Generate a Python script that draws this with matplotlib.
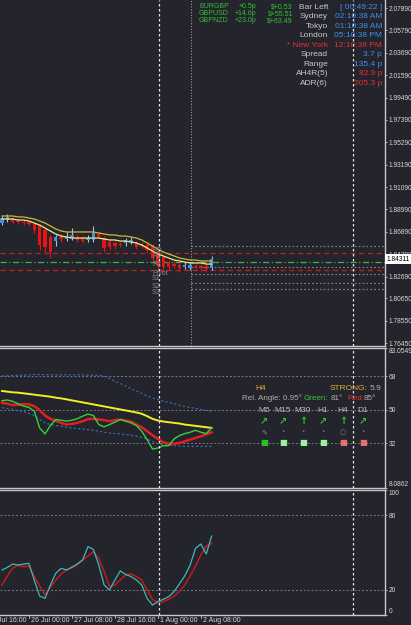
import matplotlib
matplotlib.use("Agg")
from matplotlib import pyplot as plt
import matplotlib.transforms as mtransforms
import numpy as np

W, H = 411, 625
BG = "#23242c"
FRAME = "#c8c8c8"
AXTXT = "#d8d8d8"
NARROW = ["Liberation Sans Narrow", "Liberation Sans", "DejaVu Sans"]
SANS = ["Liberation Sans", "DejaVu Sans"]
plt.rcParams["font.family"] = SANS

# --- H4 price bars -------------------------------------------------------
opens = [1.8771, 1.8799, 1.8818, 1.8790, 1.8781, 1.8781, 1.8762, 1.8752, 1.8706, 1.8640,
         1.8602, 1.8640, 1.8621, 1.8630, 1.8640, 1.8630, 1.8612, 1.8612, 1.8668, 1.8630,
         1.8593, 1.8584, 1.8574, 1.8584, 1.8593, 1.8584, 1.8574, 1.8565, 1.8565, 1.8499,
         1.8452, 1.8405, 1.8386, 1.8377, 1.8358, 1.8349, 1.8368, 1.8368, 1.8368, 1.8349]
closes = [1.8818, 1.8828, 1.8781, 1.8781, 1.8771, 1.8762, 1.8706, 1.8565, 1.8546, 1.8499,
          1.8640, 1.8621, 1.8640, 1.8659, 1.8612, 1.8602, 1.8630, 1.8677, 1.8640, 1.8537,
          1.8546, 1.8555, 1.8565, 1.8612, 1.8612, 1.8546, 1.8555, 1.8518, 1.8443, 1.8377,
          1.8358, 1.8358, 1.8368, 1.8349, 1.8377, 1.8377, 1.8358, 1.8349, 1.8340, 1.8431]
highs = [1.8837, 1.8856, 1.8828, 1.8809, 1.8799, 1.8790, 1.8771, 1.8762, 1.8724, 1.8659,
         1.8659, 1.8668, 1.8687, 1.8724, 1.8668, 1.8649, 1.8659, 1.8743, 1.8687, 1.8649,
         1.8612, 1.8602, 1.8593, 1.8630, 1.8640, 1.8602, 1.8593, 1.8584, 1.8574, 1.8518,
         1.8471, 1.8424, 1.8405, 1.8396, 1.8405, 1.8396, 1.8386, 1.8386, 1.8396, 1.8462]
lows = [1.8752, 1.8781, 1.8771, 1.8762, 1.8752, 1.8743, 1.8677, 1.8518, 1.8499, 1.8443,
        1.8555, 1.8593, 1.8602, 1.8612, 1.8593, 1.8584, 1.8593, 1.8593, 1.8621, 1.8499,
        1.8518, 1.8527, 1.8546, 1.8555, 1.8574, 1.8527, 1.8537, 1.8490, 1.8405, 1.8330,
        1.8311, 1.8330, 1.8349, 1.8311, 1.8340, 1.8330, 1.8340, 1.8321, 1.8311, 1.8330]
env_upper = [1.8837, 1.8837, 1.8837, 1.8828, 1.8828, 1.8818, 1.8809, 1.8790, 1.8771, 1.8743,
             1.8715, 1.8696, 1.8687, 1.8687, 1.8687, 1.8687, 1.8687, 1.8687, 1.8677, 1.8668,
             1.8659, 1.8659, 1.8649, 1.8649, 1.8640, 1.8630, 1.8612, 1.8584, 1.8555, 1.8527,
             1.8499, 1.8480, 1.8462, 1.8443, 1.8433, 1.8424, 1.8424, 1.8415, 1.8415, 1.8415]
env_lower = [1.8809, 1.8809, 1.8809, 1.8799, 1.8799, 1.8790, 1.8771, 1.8752, 1.8724, 1.8696,
             1.8668, 1.8649, 1.8640, 1.8630, 1.8630, 1.8630, 1.8630, 1.8630, 1.8630, 1.8621,
             1.8612, 1.8612, 1.8602, 1.8602, 1.8593, 1.8584, 1.8565, 1.8537, 1.8508, 1.8480,
             1.8462, 1.8443, 1.8424, 1.8415, 1.8405, 1.8396, 1.8396, 1.8396, 1.8386, 1.8386]
last_price = 1.84311
price_ticks = [2.07890, 2.05790, 2.03690, 2.01590, 1.99490, 1.97390, 1.95290, 1.93190,
               1.91090, 1.88990, 1.86890, 1.84790, 1.82690, 1.80650, 1.78550, 1.76450]
day_levels = [1.8490, 1.8330]
mid_level = 1.8403
pivot_levels = [1.8559, 1.8354, 1.8289, 1.8211, 1.8152]
pivot_names = ["R3", "R2", "R1", "Pivot", "S1", "S2", "S3"]

# --- TDI window ----------------------------------------------------------
tdi_yellow = [59.96, 59.60, 59.24, 59.06, 58.70, 58.34, 57.98, 57.62, 57.25, 56.89,
              56.35, 55.99, 55.45, 54.91, 54.37, 53.83, 53.29, 52.74, 52.20, 51.66,
              51.12, 50.58, 50.04, 49.50, 48.96, 48.41, 47.69, 46.43, 44.99, 44.08,
              43.54, 43.18, 42.82, 42.46, 41.92, 41.56, 41.20, 40.84, 40.48, 40.11]
tdi_red = [53.65, 53.10, 52.38, 52.56, 52.93, 52.74, 51.84, 49.68, 46.79, 44.99,
           43.90, 42.82, 41.92, 42.28, 42.82, 43.72, 44.81, 44.99, 44.63, 44.27,
           43.72, 44.27, 44.63, 44.08, 43.54, 41.92, 40.48, 38.31, 36.15, 34.16,
           32.36, 31.63, 31.63, 32.00, 32.90, 33.80, 34.70, 35.60, 36.68, 37.77]
tdi_green = [54.73, 55.09, 54.37, 53.10, 51.84, 51.12, 49.14, 40.11, 36.87, 41.38,
             44.63, 44.27, 43.72, 44.27, 44.99, 46.43, 47.51, 46.79, 41.92, 40.66,
             41.92, 43.18, 44.63, 43.72, 42.82, 41.38, 38.31, 33.80, 28.75, 29.29,
             30.55, 30.55, 34.16, 35.97, 37.05, 37.77, 38.85, 37.77, 37.05, 40.11]
band_up = [68.08, 68.08, 68.26, 68.44, 68.44, 68.62, 68.80, 68.80, 68.80, 68.62,
           68.62, 68.62, 68.62, 68.62, 68.62, 68.62, 68.44, 68.44, 68.44, 67.90,
           66.64, 65.19, 63.93, 62.67, 61.22, 59.96, 58.70, 57.25, 56.17, 55.27,
           54.55, 53.83, 53.10, 52.38, 51.66, 51.12, 50.58, 50.04, 49.50, 49.14]
band_dn = [50.94, 50.58, 50.04, 49.50, 48.78, 47.87, 46.79, 44.63, 42.82, 41.92,
           41.38, 41.02, 40.48, 40.11, 39.75, 39.57, 39.21, 38.85, 38.31, 37.77,
           37.41, 37.05, 36.87, 36.51, 36.15, 35.60, 35.06, 34.16, 32.90, 31.63,
           31.09, 30.73, 30.55, 30.37, 30.19, 30.19, 30.19, 30.19, 30.19, 30.19]
tdi_levels = [32, 50, 68]
tdi_min, tdi_max = 8.0862, 83.0549

# --- Stochastic ----------------------------------------------------------
stoch_main = [36.00, 38.13, 40.80, 40.00, 40.80, 41.33, 28.00, 15.20, 13.33, 24.00,
              33.33, 37.33, 36.00, 38.13, 40.80, 44.00, 54.67, 52.53, 40.00, 24.00,
              20.00, 28.00, 35.20, 32.53, 30.67, 28.00, 24.00, 13.33, 8.00, 10.67,
              12.53, 14.67, 18.67, 24.80, 31.20, 40.00, 53.33, 56.80, 48.80, 63.20]
stoch_signal = [24.00, 31.20, 37.60, 39.73, 38.67, 39.20, 30.67, 23.20, 16.00, 22.13,
                28.00, 32.80, 36.00, 38.13, 40.27, 44.00, 47.20, 50.67, 45.33, 34.67,
                22.67, 24.00, 28.00, 32.00, 32.80, 30.67, 28.00, 20.00, 12.53, 9.87,
                10.67, 12.53, 15.20, 18.67, 24.00, 31.20, 39.20, 48.00, 55.20, 57.33]
stoch_levels = [20, 80]

time_bars = [-3, 5, 13, 21, 29, 37]
time_labels = ["24 Jul 16:00", "26 Jul 00:00", "27 Jul 08:00", "28 Jul 16:00",
               "1 Aug 00:00", "2 Aug 08:00"]
sep_bars = [29.2, 65.3]
day_sep_bar = 35.2

# --- info panels ---------------------------------------------------------
pairs = ["EURGBP", "GBPUSD", "GBPNZD"]
pair_pips = ["+0.5p", "+14.6p", "+23.0p"]
pair_money = ["$+0.53", "$+55.51", "$+63.49"]
info_labels = ["Bar Left", "Sydney", "Tokyo", "London", "* New York", "Spread",
               "Range", "AH4R(5)", "ADR(6)"]
info_values = ["[ 00:49:22 ]", "02:10:38 AM", "01:10:38 AM", "05:10:38 PM",
               "12:10:38 PM", "3.7 p", "135.4 p", "82.9 p", "205.3 p"]
BLUE, RED, GREY = "#3f8fe8", "#e53030", "#c8c8c8"
info_label_colors = [GREY, GREY, GREY, GREY, RED, GREY, GREY, GREY, GREY]
info_value_colors = [BLUE, BLUE, BLUE, BLUE, RED, BLUE, BLUE, RED, RED]
tfs = ["M5", "M15", "M30", "H1", "H4", "D1"]
tf_arrows = ["\u2197", "\u2197", "\u2191", "\u2197", "\u2191", "\u2197"]
tf_marks = ["\u270e", "\u2022", "\u2022", "\u2022", "\u25cb", "\u2022"]
tf_box_colors = ["#22c422", "#9ef09e", "#9ef09e", "#9ef09e", "#e57070", "#e57070"]

n = len(closes)
bars = np.arange(n)
XMIN, XMAX = -2 / 5.375, 383 / 5.375

fig = plt.figure(figsize=(W / 100, H / 100), dpi=100, facecolor=BG)


def panel(top, bottom):
    ax = fig.add_axes([0, 1 - bottom / H, 385 / W, (bottom - top) / H])
    ax.set_facecolor(BG)
    ax.spines["left"].set_visible(False)
    for side in ("right", "bottom", "top"):
        ax.spines[side].set_color(FRAME)
        ax.spines[side].set_linewidth(1.0)
    ax.yaxis.tick_right()
    ax.tick_params(axis="y", length=1.5, width=0.6, color=FRAME, labelsize=4.8,
                   labelcolor=AXTXT, pad=1)
    ax.tick_params(axis="x", bottom=False, labelbottom=False)
    ax.set_xlim(XMIN, XMAX)
    return ax


def put(x, y, s, color, size=6, ha="left", fam=SANS, **kw):
    fig.text(x / W, 1 - y / H, s, color=color, fontsize=size, ha=ha, va="center",
             family=fam, **kw)


# ---------------- main price panel ----------------
ax1 = panel(0, 346)
ax1.spines["top"].set_visible(False)
ax1.set_ylim(2.0789 - 338 * 0.0009385, 2.0789 + 8 * 0.0009385)
ax1.set_yticks(price_ticks, [f"{t:.5f}" for t in price_ticks], family=NARROW)

ax1.axhline(day_levels[0], color="#c42020", lw=0.9, ls=(0, (4, 3)))
ax1.axhline(day_levels[1], color="#c42020", lw=0.9, ls=(0, (4, 3)))
ax1.axhline(mid_level, color="#3fb04a", lw=0.9, ls=(0, (5, 2, 1, 2)))
ax1.hlines(pivot_levels, day_sep_bar, XMAX, color="#8e8494", lw=0.8, ls=(0, (1.5, 2)))

up = np.array(closes) >= np.array(opens)
body_col = np.where(up, "#3f8fe8", "#e41414")
wick_col = np.where(up, "#a8c0dc", "#e41414")
ax1.vlines(bars, lows, highs, colors=wick_col, lw=0.8, zorder=3)
heights = np.array(closes) - np.array(opens)
heights = np.where(np.abs(heights) < 0.0003, 0.0003, heights)
ax1.bar(bars, heights, bottom=opens, width=0.62, color=body_col, zorder=4)
ax1.plot(bars, env_upper, color="#c9bb3c", lw=0.9, zorder=5)
ax1.plot(bars, env_lower, color="#f2ea86", lw=0.9, zorder=5)

ax1.text(1.003, last_price, f"{last_price:.5f}", transform=ax1.get_yaxis_transform(),
         fontsize=4.8, color="black", ha="left", va="center", family=NARROW,
         bbox=dict(boxstyle="square,pad=0.2", fc="white", ec="none"), clip_on=False)
ax1.axvline(day_sep_bar, color="#9a9a9a", lw=0.8, ls=(0, (1, 1.5)))

for name, yy in zip(pivot_names, [250, 257, 264, 273, 279, 286, 293]):
    put(152, yy, name, "#8a8a8a", size=5, fam=NARROW)

# pair profits
for i, (p, pp, mm) in enumerate(zip(pairs, pair_pips, pair_money)):
    yy = 6.7 + 7 * i
    put(199, yy, p, "#35c035", size=5, fam=NARROW)
    put(256, yy, pp, "#35c035", size=5, ha="right", fam=NARROW)
    put(293, yy, mm, "#35c035", size=5, ha="right", fam=NARROW)

for i in range(len(info_labels)):
    yy = 7.3 + 9.5 * i
    put(328, yy, info_labels[i], info_label_colors[i], size=6, ha="right")
    put(382, yy, info_values[i], info_value_colors[i], size=6, ha="right")

# ---------------- TDI panel ----------------
ax2 = panel(348, 487.5)
ax2.set_ylim(tdi_min, tdi_max)
ax2.set_yticks([tdi_min] + tdi_levels + [tdi_max],
               ["8.0862", "32", "50", "68", "83.0549"], family=NARROW)
labs = ax2.get_yticklabels()
labs[0].set_va("bottom")
labs[-1].set_va("top")
for lv in tdi_levels:
    ax2.axhline(lv, color="#7c7c7c", lw=0.7, ls=(0, (2, 2)))
ax2.plot(bars, band_up, color="#3a70bc", lw=0.8, ls=(0, (2, 2)))
ax2.plot(bars, band_dn, color="#3a70bc", lw=0.8, ls=(0, (2, 2)))
ax2.plot(bars, tdi_yellow, color="#f2f020", lw=1.4)
ax2.plot(bars, tdi_red, color="#e02020", lw=1.8)
ax2.plot(bars, tdi_green, color="#34d040", lw=1.0)

put(255, 389, "H4", "#d9b032", size=6)
put(330, 389, "STRONG:", "#d9b032", size=6)
put(370, 389, "5.9", "#b0b0b0", size=6)
put(242, 398.5, "Rel. Angle: 0.95\u00b0", "#b0b0b0", size=5.8)
put(304, 398.5, "Green:", "#34c43c", size=5.8)
put(331, 398.5, "81\u00b0", "#b0b0b0", size=5.8)
put(347, 398.5, "Red:", "#e03030", size=5.8)
put(364, 398.5, "85\u00b0", "#b0b0b0", size=5.8)
tf_x = [264, 283, 303, 323, 343, 363]
for x, tf, ar, mk, bc in zip(tf_x, tfs, tf_arrows, tf_marks, tf_box_colors):
    put(x, 410, tf, "#c0c0c0", size=6, ha="center")
    put(x, 421, ar, "#30c030", size=7, ha="center", fam=["DejaVu Sans"],
        fontweight="bold")
    put(x, 432, mk, "#8a8a8a", size=5 if mk != "\u2022" else 4, ha="center",
        fam=["DejaVu Sans"])
    put(x, 443, "\u25a0", bc, size=6, ha="center", fam=["DejaVu Sans"])

# ---------------- Stochastic panel ----------------
ax3 = panel(490, 615)
ax3.set_ylim(0, 100)
ax3.set_yticks([0, 20, 80, 100], ["0", "20", "80", "100"], family=NARROW)
labs = ax3.get_yticklabels()
labs[0].set_va("bottom")
labs[-1].set_va("top")
for lv in stoch_levels:
    ax3.axhline(lv, color="#7c7c7c", lw=0.7, ls=(0, (2, 2)))
ax3.plot(bars, stoch_signal, color="#b81c1c", lw=1.2)
ax3.plot(bars, stoch_main, color="#3fb8b8", lw=0.9)

trans = mtransforms.blended_transform_factory(ax3.transData, ax3.transAxes)
for b, lab in zip(time_bars, time_labels):
    ax3.text(b + 0.35, -0.02, lab, transform=trans, fontsize=5, color=AXTXT,
             ha="left", va="top", family=NARROW, clip_on=False)
    if XMIN < b < XMAX:
        ax3.plot([b, b], [0, -0.025], transform=trans, color=FRAME, lw=0.6,
                 clip_on=False)

for ax in (ax1, ax2, ax3):
    for sb in sep_bars:
        ax.axvline(sb, color="#e6e6e6", lw=0.9, ls=(0, (2, 2)), zorder=6)

fig.savefig("out.png", dpi=100, facecolor=BG)
